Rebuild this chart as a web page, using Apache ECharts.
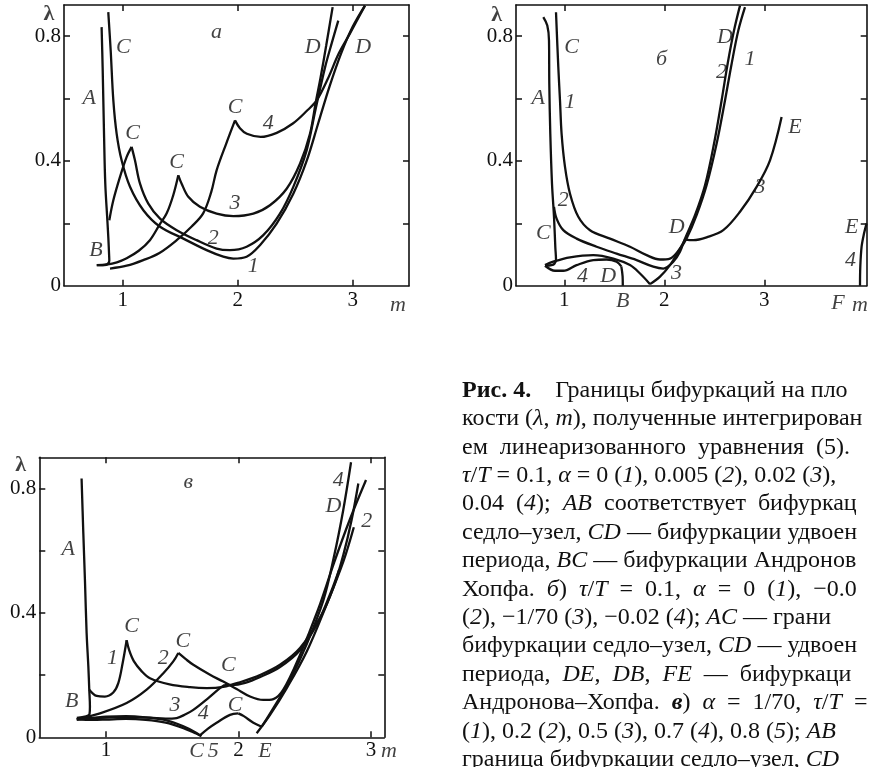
<!DOCTYPE html>
<html><head><meta charset="utf-8">
<script src="https://cdn.jsdelivr.net/npm/echarts@6/dist/echarts.min.js"></script>
<style>html,body{margin:0;padding:0;background:#fff;}#c{width:869px;height:767px;}</style>
</head><body><div id="c"></div>
<script>
// ---------- Panel а ----------
const aAB = [[0.817,0.829],[0.826,0.70],[0.838,0.487],[0.849,0.327],[0.867,0.21],[0.876,0.15],[0.882,0.10],[0.884,0.08],[0.868,0.069],[0.84,0.066],[0.775,0.066]];
const a1 = [[0.875,0.877],[0.896,0.754],[0.919,0.594],[0.948,0.487],[0.991,0.402],[1.064,0.317],[1.18,0.242],[1.325,0.189],[1.528,0.151],[1.73,0.114],[1.875,0.093],[1.962,0.087],[2.078,0.093],[2.194,0.13],[2.339,0.199],[2.484,0.295],[2.60,0.40],[2.70,0.52],[2.80,0.64],[2.90,0.745],[3.0,0.83],[3.107,0.898]];
const a2bc = [[0.884,0.21],[0.919,0.274],[0.977,0.349],[1.035,0.413],[1.078,0.445]];
const a2cd = [[1.078,0.445],[1.107,0.402],[1.151,0.327],[1.223,0.263],[1.325,0.215],[1.47,0.178],[1.643,0.146],[1.817,0.119],[1.933,0.114],[2.078,0.125],[2.223,0.162],[2.368,0.231],[2.484,0.317],[2.60,0.434],[2.68,0.57],[2.76,0.70],[2.82,0.78],[2.875,0.85]];
const a3bc = [[0.775,0.066],[0.86,0.068],[0.95,0.075],[1.035,0.088],[1.14,0.112],[1.237,0.146],[1.32,0.195],[1.383,0.232],[1.44,0.29],[1.484,0.354]];
const a3cd = [[1.484,0.354],[1.513,0.327],[1.571,0.285],[1.672,0.253],[1.817,0.231],[1.962,0.223],[2.136,0.231],[2.281,0.258],[2.426,0.311],[2.542,0.391],[2.629,0.487],[2.68,0.59],[2.72,0.665],[2.77,0.77],[2.826,0.893]];
const a4bc = [[0.89,0.055],[1.035,0.064],[1.179,0.082],[1.32,0.105],[1.47,0.146],[1.60,0.19],[1.70,0.232],[1.77,0.30],[1.817,0.37],[1.90,0.455],[1.977,0.53]];
const a4cd = [[1.977,0.53],[2.02,0.505],[2.08,0.487],[2.20,0.477],[2.34,0.49],[2.48,0.52],[2.60,0.56],[2.687,0.594],[2.78,0.66],[2.88,0.745],[2.977,0.809],[3.107,0.898]];
const aLabels = [[1.817,0.813,'а'],[1.005,0.765,'C'],[0.71,0.60,'A'],[1.087,0.488,'C'],[1.47,0.397,'C'],[1.977,0.573,'C'],[2.266,0.52,'4'],[1.977,0.264,'3'],[1.788,0.152,'2'],[2.136,0.061,'1'],[0.768,0.114,'B'],[2.652,0.765,'D'],[3.092,0.765,'D'],[3.394,-0.062,'m']];
const aLambda = [[0.359,0.869,'λ']];

// ---------- Panel б ----------
const bAC = [[0.79,0.861],[0.83,0.834],[0.847,0.786],[0.85,0.647],[0.86,0.487],[0.877,0.327],[0.897,0.221],[0.91,0.125],[0.917,0.082],[0.90,0.07],[0.873,0.066],[0.807,0.064]];
const b1 = [[0.917,0.877],[0.94,0.701],[0.957,0.594],[0.973,0.487],[1.007,0.381],[1.057,0.295],[1.14,0.221],[1.257,0.178],[1.457,0.151],[1.657,0.125],[1.823,0.098],[1.957,0.084],[2.057,0.087],[2.157,0.119],[2.223,0.151],[2.323,0.226],[2.423,0.322],[2.523,0.455],[2.607,0.594],[2.673,0.711],[2.74,0.818],[2.807,0.893]];
const b2 = [[0.897,0.253],[0.923,0.215],[0.99,0.178],[1.123,0.151],[1.323,0.125],[1.523,0.103],[1.723,0.082],[1.89,0.061],[1.99,0.055],[2.09,0.077],[2.157,0.109],[2.207,0.151],[2.307,0.226],[2.407,0.322],[2.497,0.455],[2.573,0.594],[2.633,0.711],[2.697,0.818],[2.757,0.898]];
const b3a = [[0.807,0.066],[0.89,0.077],[1.057,0.091],[1.29,0.098],[1.49,0.087],[1.657,0.066],[1.757,0.039],[1.857,0.005]];
const b3b = [[1.857,0.005],[1.957,0.029],[2.057,0.066],[2.14,0.109],[2.207,0.148]];
const b3c = [[2.207,0.148],[2.29,0.146],[2.423,0.155],[2.59,0.178],[2.757,0.237],[2.923,0.317],[3.057,0.402],[3.173,0.541]];
const b4a = [[0.807,0.064],[0.907,0.048],[0.99,0.048],[1.123,0.066],[1.29,0.082],[1.423,0.084],[1.523,0.077],[1.57,0.062]];
const b4b = [[1.57,0.062],[1.583,0.03],[1.585,0]];
const b4fe = [[3.957,0],[3.96,0.061],[3.973,0.125],[3.997,0.167],[4.023,0.2]];
const bLabels = [[1.073,0.765,'C'],[1.973,0.727,'б'],[2.607,0.797,'D'],[2.857,0.727,'1'],[2.573,0.685,'2'],[0.74,0.60,'A'],[1.057,0.589,'1'],[3.307,0.509,'E'],[2.957,0.317,'3'],[0.99,0.274,'2'],[0.79,0.167,'C'],[2.123,0.189,'D'],[3.873,0.189,'E'],[3.863,0.082,'4'],[1.183,0.029,'4'],[1.44,0.029,'D'],[2.123,0.039,'3'],[1.584,-0.051,'B'],[3.737,-0.056,'F'],[3.957,-0.062,'m']];
const bLambda = [[0.324,0.866,'λ']];

// ---------- Panel в ----------
const cAB = [[0.816,0.832],[0.829,0.658],[0.842,0.497],[0.854,0.335],[0.867,0.228],[0.874,0.153],[0.879,0.099],[0.876,0.075],[0.85,0.067],[0.78,0.062]];
const c1bc = [[0.874,0.153],[0.93,0.133],[0.992,0.131],[1.055,0.144],[1.093,0.174],[1.126,0.239],[1.156,0.312]];
const c1cd = [[1.156,0.312],[1.175,0.28],[1.21,0.245],[1.27,0.212],[1.332,0.19],[1.48,0.17],[1.634,0.161],[1.76,0.158],[1.885,0.162],[2.011,0.177],[2.162,0.2],[2.313,0.233],[2.464,0.287],[2.615,0.384],[2.716,0.481],[2.792,0.588],[2.854,0.70],[2.904,0.816]];
const c2bc = [[0.78,0.058],[0.955,0.077],[1.156,0.11],[1.307,0.153],[1.433,0.206],[1.508,0.244],[1.546,0.271]];
const c2cd = [[1.546,0.271],[1.60,0.252],[1.659,0.233],[1.785,0.201],[1.885,0.179],[1.986,0.155],[2.087,0.131],[2.187,0.12],[2.263,0.123],[2.338,0.153],[2.464,0.265],[2.60,0.41],[2.72,0.56],[2.84,0.70],[2.962,0.827]];
const c3bc = [[0.78,0.058],[0.9,0.061],[1.05,0.064],[1.2,0.064],[1.332,0.063],[1.45,0.06],[1.533,0.062],[1.6,0.074],[1.659,0.088],[1.772,0.126],[1.86,0.158],[1.898,0.169]];
const c3cd = [[1.898,0.169],[1.95,0.168],[2.05,0.175],[2.16,0.193],[2.313,0.226],[2.464,0.28],[2.6,0.37],[2.70,0.47],[2.76,0.54]];
const c4a = [[0.78,0.058],[0.9,0.056],[1.0,0.057],[1.15,0.059],[1.3,0.056],[1.45,0.047],[1.58,0.03],[1.68,0.012],[1.709,0.006]];
const c4bc = [[1.709,0.006],[1.77,0.028],[1.835,0.047],[1.936,0.072],[1.999,0.077]];
const c4cd = [[1.999,0.077],[2.04,0.068],[2.112,0.047],[2.175,0.034]];
const c4up = [[2.175,0.034],[2.263,0.094],[2.389,0.185],[2.515,0.30],[2.64,0.44],[2.72,0.58],[2.79,0.73],[2.849,0.884]];
const c5a = [[0.78,0.058],[0.9,0.062],[1.0,0.066],[1.15,0.068],[1.3,0.064],[1.45,0.055],[1.58,0.036],[1.68,0.015],[1.72,0.003]];
const c5e = [[2.137,0.013],[2.238,0.072],[2.364,0.158],[2.515,0.276],[2.665,0.427],[2.792,0.566],[2.87,0.675]];
const cLabels = [[1.621,0.819,'в'],[0.716,0.604,'A'],[1.194,0.357,'C'],[1.05,0.255,'1'],[1.433,0.255,'2'],[1.58,0.309,'C'],[1.923,0.233,'C'],[1.52,0.104,'3'],[1.734,0.077,'4'],[1.974,0.104,'C'],[0.741,0.115,'B'],[2.753,0.825,'4'],[2.716,0.744,'D'],[2.967,0.696,'2'],[1.684,-0.046,'C'],[1.81,-0.046,'5'],[2.2,-0.046,'E'],[3.135,-0.046,'m']];
const cLambda = [[0.356,0.873,'λ']];

// ---------- axes ----------
const xRanges = [[0.49,3.49],[0.517,4.024],[0.497,3.1]];
const xTickVals = [1,2,3];
const yRange = [0,0.9];
const yTickVals = [0.2,0.4,0.6,0.8];
const yLabelVals = [0,0.4,0.8];

// ---------- caption ----------
const captionLines = [
  '{b|Рис. 4.}    Границы бифуркаций на пло',
  'кости ({i|λ}, {i|m}), полученные интегрирован',
  'ем  линеаризованного  уравнения  (5).',
  '{i|τ}/{i|T} = 0.1, {i|α} = 0 ({i|1}), 0.005 ({i|2}), 0.02 ({i|3}),',
  '0.04  ({i|4});  {i|AB}  соответствует  бифуркац',
  'седло–узел, {i|CD} — бифуркации удвоен',
  'периода, {i|BC} — бифуркации Андронов',
  'Хопфа.  {i|б})  {i|τ}/{i|T}  =  0.1,  {i|α}  =  0  ({i|1}),  −0.0',
  '({i|2}), −1/70 ({i|3}), −0.02 ({i|4}); {i|AC} — грани',
  'бифуркации седло–узел, {i|CD} — удвоен',
  'периода,  {i|DE},  {i|DB},  {i|FE}  —  бифуркаци',
  'Андронова–Хопфа.  {bi|в})  {i|α}  =  1/70,  {i|τ}/{i|T}  =',
  '({i|1}), 0.2 ({i|2}), 0.5 ({i|3}), 0.7 ({i|4}), 0.8 ({i|5}); {i|AB}',
  'граница бифуркации седло–узел, {i|CD}'
];

const FONT = '"Liberation Serif","Times New Roman",serif';
const INK = '#111111';
const grids = [
  {left:64, top:5, width:345, height:280.7},
  {left:516, top:5, width:350.7, height:280.7},
  {left:39.3, top:457.3, width:345, height:280}
];

const xAxes = [], yAxes = [];
grids.forEach((g, i) => {
  const lineS = {show:true, onZero:false, lineStyle:{color:INK, width:1.6}};
  const tickS = {show:true, inside:true, length:6, customValues:xTickVals, lineStyle:{color:INK, width:1.5}};
  xAxes.push({type:'value', gridIndex:i, min:xRanges[i][0], max:xRanges[i][1], position:'bottom',
    axisLine:lineS, axisTick:tickS, splitLine:{show:false},
    axisLabel:{show:true, customValues:xTickVals, margin:i===2?3:4, color:INK, fontFamily:FONT, fontSize:21}});
  xAxes.push({type:'value', gridIndex:i, min:xRanges[i][0], max:xRanges[i][1], position:'top',
    axisLine:lineS, axisTick:tickS, splitLine:{show:false}, axisLabel:{show:false}});
  const ytick = {show:true, inside:true, length:6, customValues:yTickVals, lineStyle:{color:INK, width:1.5}};
  yAxes.push({type:'value', gridIndex:i, min:yRange[0], max:yRange[1], position:'left',
    axisLine:lineS, axisTick:ytick, splitLine:{show:false},
    axisLabel:{show:true, customValues:yLabelVals, margin:3, color:INK, fontFamily:FONT, fontSize:21}});
  yAxes.push({type:'value', gridIndex:i, min:yRange[0], max:yRange[1], position:'right',
    axisLine:lineS, axisTick:ytick, splitLine:{show:false}, axisLabel:{show:false}});
});

function curve(data, g) {
  return {type:'line', xAxisIndex:2*g, yAxisIndex:2*g, data:data, symbol:'none', smooth:0.35,
    lineStyle:{color:INK, width:2.3}, silent:true, animation:false, clip:true, z:3};
}
function labels(arr, g, fstyle, fweight, size) {
  return {type:'scatter', xAxisIndex:2*g, yAxisIndex:2*g, clip:false, symbolSize:1, silent:true, animation:false,
    itemStyle:{color:'rgba(0,0,0,0)'},
    data: arr.map(d => ({value:[d[0], d[1]], name:d[2]})),
    label:{show:true, position:'inside', formatter:'{b}', color:INK, fontFamily:FONT, fontSize:size||22,
      fontStyle:fstyle, fontWeight:fweight||'normal'},
    labelLayout:{hideOverlap:false}, z:5};
}

const series = [];
[aAB,a1,a2bc,a2cd,a3bc,a3cd,a4bc,a4cd].forEach(d => series.push(curve(d,0)));
[bAC,b1,b2,b3a,b3b,b3c,b4a,b4b,b4fe].forEach(d => series.push(curve(d,1)));
[cAB,c1bc,c1cd,c2bc,c2cd,c3bc,c3cd,c4a,c4bc,c4cd,c4up,c5a,c5e].forEach(d => series.push(curve(d,2)));
series.push(labels(aLabels,0,'italic'), labels(bLabels,1,'italic'), labels(cLabels,2,'italic'));
series.push(labels(aLambda,0,'normal','bold',22), labels(bLambda,1,'normal','bold',22), labels(cLambda,2,'normal','bold',22));

const CAP = 24;
const RICH = {
  i:{fontFamily:FONT, fontSize:CAP, fontStyle:'italic', fontWeight:'normal', fill:INK},
  b:{fontFamily:FONT, fontSize:CAP, fontStyle:'normal', fontWeight:'bold', fill:INK},
  bi:{fontFamily:FONT, fontSize:CAP, fontStyle:'italic', fontWeight:'bold', fill:INK}
};
const graphic = captionLines.map((t, k) => ({
  type:'text', x:462, y:390.5 + 28.4*k, silent:true,
  style:{text:t, fontFamily:FONT, fontSize:CAP, fill:INK, align:'left', verticalAlign:'middle', rich:RICH}
}));

const chart = echarts.init(document.getElementById('c'), null, {renderer:'canvas'});
chart.setOption({
  animation:false,
  backgroundColor:'#fff',
  grid: grids.map(g => Object.assign({containLabel:false, outerBoundsMode:'none'}, g)),
  xAxis: xAxes,
  yAxis: yAxes,
  series: series,
  graphic: graphic
});
</script>
</body></html>
